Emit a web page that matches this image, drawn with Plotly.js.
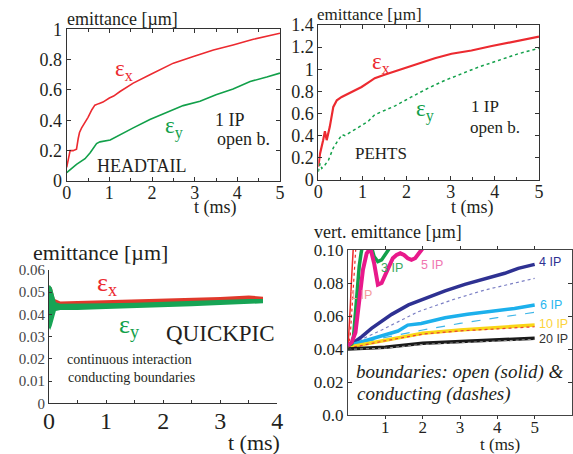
<!DOCTYPE html>
<html><head><meta charset="utf-8">
<script src="https://cdn.plot.ly/plotly-3.0.1.min.js"></script>
<style>html,body{margin:0;padding:0;background:#fff}#c{width:573px;height:454px}</style>
</head><body><div id="c"></div>
<script>
// ---- Panel 1: HEADTAIL ----
const htXT = [0, 0.04, 0.08, 0.15, 0.23, 0.27, 0.3, 0.35, 0.43, 0.5, 0.59, 0.66, 0.75, 0.85, 1.0, 1.1, 1.25, 1.48, 1.56, 1.95, 2.5, 2.97, 3.44, 3.9, 4.375, 5];
const htXV = [0.09, 0.15, 0.2, 0.2, 0.21, 0.28, 0.32, 0.35, 0.385, 0.42, 0.47, 0.5, 0.51, 0.52, 0.547, 0.56, 0.59, 0.635, 0.645, 0.70, 0.777, 0.82, 0.864, 0.897, 0.934, 0.974];
const htYT = [0, 0.1, 0.23, 0.43, 0.55, 0.7, 0.78, 1.02, 1.25, 1.56, 1.95, 2.34, 2.73, 3.125, 3.5, 3.9, 4.3, 4.69, 5];
const htYV = [0.055, 0.077, 0.11, 0.147, 0.186, 0.247, 0.258, 0.27, 0.306, 0.35, 0.405, 0.45, 0.497, 0.525, 0.569, 0.606, 0.656, 0.685, 0.711];
// ---- Panel 2: PEHTS ----
const peXT = [0, 0.04, 0.11, 0.15, 0.19, 0.26, 0.34, 0.42, 0.53, 0.68, 0.83, 0.98, 1.13, 1.28, 1.5, 1.81, 2.27, 2.64, 3.02, 3.47, 3.93, 4.53, 5];
const peXV = [0.12, 0.24, 0.36, 0.44, 0.36, 0.48, 0.66, 0.72, 0.75, 0.78, 0.81, 0.84, 0.88, 0.92, 0.95, 0.99, 1.05, 1.1, 1.14, 1.17, 1.21, 1.26, 1.295];
const peYT = [0, 0.04, 0.08, 0.15, 0.23, 0.34, 0.45, 0.54, 0.6, 0.76, 0.98, 1.13, 1.28, 1.51, 1.74, 2.11, 2.49, 2.87, 3.25, 3.63, 4.08, 4.53, 5];
const peYV = [0.075, 0.15, 0.105, 0.135, 0.18, 0.29, 0.36, 0.41, 0.40, 0.44, 0.49, 0.53, 0.59, 0.63, 0.67, 0.75, 0.83, 0.9, 0.96, 1.02, 1.08, 1.14, 1.19];
// ---- Panel 3: QUICKPIC (noise bands: upper / lower edges) ----
const qpXT = [0, 0.05, 0.1, 0.2, 0.5, 1, 1.5, 2, 2.5, 3, 3.5, 3.75];
const qpXUp = [0.053, 0.052, 0.047, 0.0458, 0.046, 0.0463, 0.0466, 0.047, 0.0474, 0.0478, 0.0485, 0.048];
const qpXLo = [0.040, 0.042, 0.044, 0.044, 0.0443, 0.0445, 0.0448, 0.0452, 0.0457, 0.0462, 0.0467, 0.0467];
const qpYT = [0, 0.02, 0.05, 0.08, 0.12, 0.2, 0.5, 1, 1.5, 2, 2.5, 3, 3.5, 3.75];
const qpYUp = [0.053, 0.053, 0.052, 0.049, 0.0455, 0.0448, 0.0448, 0.045, 0.0453, 0.0458, 0.0462, 0.0466, 0.047, 0.047];
const qpYLo = [0.034, 0.033, 0.035, 0.038, 0.0415, 0.042, 0.042, 0.0425, 0.0428, 0.0432, 0.0437, 0.0443, 0.0448, 0.045];
// ---- Panel 4: vertical emittance vs number of IPs ----
const ip1T = [0, 0.03, 0.06, 0.09, 0.12, 0.15];
const ip1V = [0.041, 0.05, 0.065, 0.08, 0.095, 0.105];
const ip1dT = [0, 0.06, 0.1, 0.14, 0.18, 0.22];
const ip1dV = [0.041, 0.048, 0.062, 0.078, 0.092, 0.105];
const ip3T = [0, 0.1, 0.15, 0.2, 0.25, 0.3, 0.35, 0.4, 0.5, 0.6, 0.7, 0.8, 0.9, 1.0, 1.1, 1.2];
const ip3V = [0.042, 0.043, 0.048, 0.062, 0.078, 0.09, 0.098, 0.104, 0.108, 0.104, 0.096, 0.093, 0.094, 0.097, 0.1, 0.104];
const ip5T = [0, 0.1, 0.2, 0.3, 0.4, 0.5, 0.6, 0.7, 0.8, 0.9, 1.0, 1.1, 1.2, 1.3, 1.4, 1.5, 1.6, 1.7, 1.8, 1.9, 2.0];
const ip5V = [0.042, 0.044, 0.05, 0.07, 0.088, 0.098, 0.101, 0.092, 0.079, 0.08, 0.085, 0.091, 0.095, 0.097, 0.098, 0.097, 0.095, 0.094, 0.095, 0.098, 0.101];
const ip4T = [0, 0.37, 0.63, 0.9, 1.17, 1.62, 2.06, 2.6, 3.13, 3.67, 4.2, 4.56, 5.0];
const ip4V = [0.0414, 0.0475, 0.0525, 0.0566, 0.061, 0.0667, 0.0707, 0.0752, 0.0792, 0.0828, 0.0859, 0.0889, 0.0913];
const ip4dT = [0, 0.9, 1.88, 2.78, 3.67, 5.0];
const ip4dV = [0.042, 0.0515, 0.0626, 0.0697, 0.0758, 0.0828];
const ip6T = [0, 0.54, 0.98, 1.34, 1.6, 1.96, 2.6, 3.2, 3.84, 4.46, 5.0];
const ip6V = [0.042, 0.0453, 0.0485, 0.0509, 0.0545, 0.0555, 0.0589, 0.061, 0.0626, 0.0646, 0.0667];
const ip6dT = [0, 1, 2, 3, 4, 5];
const ip6dV = [0.042, 0.047, 0.0515, 0.0555, 0.059, 0.0622];
const ip10T = [0, 1, 2, 3, 4, 5];
const ip10V = [0.041, 0.0455, 0.0495, 0.0515, 0.053, 0.0545];
const ip10dV = [0.0405, 0.045, 0.049, 0.051, 0.0522, 0.0535];
const ip20T = [0, 1, 2, 3, 4, 5];
const ip20V = [0.040, 0.041, 0.0435, 0.0445, 0.0455, 0.0465];
const ip20dV = [0.0398, 0.0405, 0.0428, 0.0438, 0.0449, 0.0458];

const W = 573, H = 454;
const px = x => x / W, py = y => 1 - y / H;
const RED = '#ec2a30', GREEN = '#12a04a', INK = '#231f20';
const TF = 'Liberation Serif';
const SF = 'Liberation Sans';

function ln(x, y, xa, ya, color, width, dash) {
  return {x, y, xaxis: xa, yaxis: ya, type: 'scatter', mode: 'lines', hoverinfo: 'skip',
    line: {color, width, dash: dash || 'solid'}, showlegend: false};
}
const traces = [
  ln(htXT, htXV, 'x', 'y', RED, 1.6),
  ln(htYT, htYV, 'x', 'y', GREEN, 1.6),
  ln(peXT, peXV, 'x2', 'y2', RED, 2.2),
  ln(peYT, peYV, 'x2', 'y2', GREEN, 1.5, 'dot'),
  // QUICKPIC bands
  ln(qpXT, qpXLo, 'x3', 'y3', RED, 0),
  Object.assign(ln(qpXT, qpXUp, 'x3', 'y3', RED, 0), {fill: 'tonexty', fillcolor: '#e0392b'}),
  ln(qpYT, qpYLo, 'x3', 'y3', GREEN, 0),
  Object.assign(ln(qpYT, qpYUp, 'x3', 'y3', GREEN, 0), {fill: 'tonexty', fillcolor: '#17a455'}),
  // panel 4 dashed (conducting)
  ln(ip4dT, ip4dV, 'x4', 'y4', '#7b7fc4', 1.2, 'dot'),
  ln(ip6dT, ip6dV, 'x4', 'y4', '#3fb6e8', 1.2, 'dash'),
  // panel 4 solid (open)
  ln(ip4T, ip4V, 'x4', 'y4', '#2e3192', 3.5),
  ln(ip6T, ip6V, 'x4', 'y4', '#1cb0ec', 3.5),
  ln(ip10T, ip10V, 'x4', 'y4', '#f9d616', 3.5),
  ln(ip10T, ip10dV, 'x4', 'y4', '#e8403a', 1.2, 'dot'),
  ln(ip20T, ip20V, 'x4', 'y4', '#1a1a1a', 3.5),
  ln(ip20T, ip20dV, 'x4', 'y4', '#9a9a9a', 1, 'dot'),
  ln(ip1T, ip1V, 'x4', 'y4', '#ee2a2a', 1.5),
  ln(ip1dT, ip1dV, 'x4', 'y4', '#ee2a2a', 1.2, 'dot'),
  ln(ip3T, ip3V, 'x4', 'y4', '#12a04a', 3.5),
  ln(ip5T, ip5V, 'x4', 'y4', '#e8198b', 4)
];

const tf = (s, c) => ({family: TF, size: s, color: c || INK});
function boxAxis(extra) {
  return Object.assign({showline: true, mirror: 'ticks', linecolor: '#333', linewidth: 1,
    ticks: 'inside', ticklen: 4, tickcolor: '#333', showgrid: false, zeroline: false,
    tickfont: tf(18)}, extra);
}
const minorHalf = {dtick: 0.5, ticks: 'inside', ticklen: 3, tickcolor: '#333'};
const layout = {
  width: W, height: H, margin: {l: 0, r: 0, t: 0, b: 0},
  font: {family: TF, color: INK},
  paper_bgcolor: '#fff', plot_bgcolor: 'rgba(0,0,0,0)', showlegend: false,
  xaxis: boxAxis({domain: [px(66.7), px(280)], range: [0, 5], tickvals: [0, 1, 2, 3, 4, 5], anchor: 'y',
    ticklabelstandoff: -5, minor: minorHalf}),
  yaxis: boxAxis({domain: [py(181), py(29.3)], range: [0, 1], tickvals: [0, 0.2, 0.4, 0.6, 0.8, 1], anchor: 'x'}),
  xaxis2: boxAxis({domain: [px(318.3), px(539)], range: [0, 5], tickvals: [0, 1, 2, 3, 4, 5], anchor: 'y2',
    ticklabelstandoff: -5, minor: minorHalf}),
  yaxis2: boxAxis({domain: [py(180), py(25)], range: [0, 1.4], tickvals: [0, 0.2, 0.4, 0.6, 0.8, 1, 1.2, 1.4], anchor: 'x2'}),
  xaxis3: {domain: [px(49), px(277.3)], range: [0, 4], anchor: 'y3', showline: true, linecolor: '#333',
    ticks: 'inside', ticklen: 3, tickcolor: '#333', tickvals: [0, 1, 2, 3, 4], ticklabelstandoff: -4,
    minor: {tickvals: [0.5, 1.5, 2.5, 3.5], ticks: 'inside', ticklen: 3, tickcolor: '#333'},
    showgrid: false, zeroline: false, tickfont: tf(24)},
  yaxis3: {domain: [py(403.3), py(270)], range: [0, 0.06], anchor: 'x3', showline: true, linecolor: '#333',
    ticks: 'inside', ticklen: 3, tickcolor: '#333', tickvals: [0, 0.01, 0.02, 0.03, 0.04, 0.05, 0.06],
    ticktext: ['0', '0.01', '0.02', '0.03', '0.04', '0.05', '0.06'], showgrid: false, zeroline: false,
    tickfont: tf(15, '#444')},
  xaxis4: boxAxis({domain: [px(348), px(572)], range: [0, 6], tickvals: [1, 2, 3, 4, 5], anchor: 'y4',
    linecolor: '#444', ticks: 'outside', ticklen: 3, tickfont: tf(17), ticklabelstandoff: -6}),
  yaxis4: boxAxis({domain: [py(415), py(250)], range: [0, 0.1], anchor: 'x4', linecolor: '#444',
    tickvals: [0, 0.02, 0.04, 0.06, 0.08, 0.1], ticktext: ['0.0', '0.02', '0.04', '0.06', '0.08', '0.10'],
    tickfont: tf(17)}),
  annotations: []
};
function ann(text, x, y, size, color, family, style) {
  layout.annotations.push({text, x: px(x), y: py(y), xref: 'paper', yref: 'paper',
    showarrow: false, xanchor: 'center', yanchor: 'middle', borderpad: 0,
    font: {family: family || TF, size, color: color || INK, style: style || 'normal'}});
}
// panel 1
ann('emittance [µm]', 122, 19, 18);
ann('t (ms)', 215, 207, 18);
ann('ε<sub>x</sub>', 124, 70, 23, RED);
ann('ε<sub>y</sub>', 174, 127, 23, GREEN);
ann('1 IP', 230, 120, 18);
ann('open b.', 243, 139, 18);
ann('HEADTAIL', 142, 166, 18);
// panel 2
ann('emittance [µm]', 369, 14, 17);
ann('t (ms)', 472, 207, 18);
ann('ε<sub>x</sub>', 381, 63, 23, RED);
ann('ε<sub>y</sub>', 425, 110, 23, GREEN);
ann('1 IP', 485, 107, 17);
ann('open b.', 495, 127, 17);
ann('PEHTS', 381, 153, 17);
// panel 3
ann('emittance [µm]', 100, 252, 22);
ann('t (ms)', 254, 442, 22);
ann('ε<sub>x</sub>', 107, 284, 26, RED);
ann('ε<sub>y</sub>', 129, 326, 26, GREEN);
ann('QUICKPIC', 220, 333, 23);
ann('continuous interaction', 129, 359, 14);
ann('conducting boundaries', 131, 377, 14);
// panel 4
ann('vert. emittance [µm]', 388, 232, 18);
ann('t (ms)', 500, 444, 17);
ann('boundaries: open (solid) &amp;', 460, 372, 19, INK, TF, 'italic');
ann('conducting (dashes)', 434, 394, 19, INK, TF, 'italic');
ann('1 IP', 361, 295, 12.5, '#f49a9a', SF);
ann('3 IP', 392, 268, 12.5, '#3aa860', SF);
ann('5 IP', 432, 265, 12.5, '#f075b0', SF);
ann('4 IP', 550, 262, 12.5, '#2e3192', SF);
ann('6 IP', 551, 305, 12.5, '#29b6ef', SF);
ann('10 IP', 553, 324, 12.5, '#fcd33a', SF);
ann('20 IP', 553, 339, 12.5, '#333333', SF);

Plotly.newPlot('c', traces, layout, {staticPlot: true, displayModeBar: false});
</script></body></html>
